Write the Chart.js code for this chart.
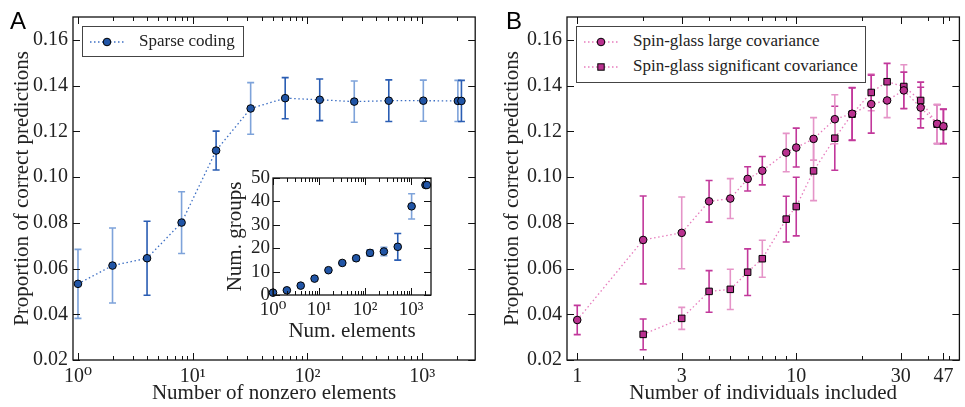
<!DOCTYPE html>
<html>
<head>
<meta charset="utf-8">
<script src="https://cdn.jsdelivr.net/npm/chart.js@4.4.1/dist/chart.umd.min.js"></script>
<style>
    html, body { margin: 0; padding: 0; background: #fff; }
    #wrap { position: relative; width: 965px; height: 407px; overflow: hidden; font-family: "Liberation Serif", "DejaVu Serif", serif; color: #222; }
    #wrap canvas { position: absolute; }
    .panel-tag { position: absolute; font: 24px "Liberation Sans", Arial, sans-serif; color: #000; line-height: 1; }
    .legend { position: absolute; box-sizing: border-box; border: 1.5px solid #444; background: #fff; font-size: 17px; }
    .legend-row { position: absolute; left: 0; height: 20px; white-space: nowrap; }
    .legend-row svg { position: absolute; left: 6px; top: 3px; }
    .legend-row span { position: absolute; left: 56px; top: -1px; line-height: 20px; }
</style>
</head>
<body>
<div id="wrap">
    <canvas id="chartA" width="480" height="407" style="left:0;top:0;width:480px;height:407px"></canvas>
    <canvas id="chartInset" width="220" height="185" style="left:220px;top:160px;width:220px;height:185px"></canvas>
    <canvas id="chartB" width="475" height="407" style="left:490px;top:0;width:475px;height:407px"></canvas>
    <div class="panel-tag" style="left:10px;top:9px">A</div>
    <div class="panel-tag" style="left:506px;top:9px">B</div>

    <div class="legend" style="left:82px;top:26px;width:162px;height:31px">
        <div class="legend-row" style="top:5px">
            <svg width="36" height="14"><line x1="1" y1="7" x2="35" y2="7" stroke="#3d6fc4" stroke-width="1.3" stroke-dasharray="1.5 2.5"/><circle cx="18" cy="7" r="3.8" fill="#2155a6" stroke="#000" stroke-width="1"/></svg>
            <span>Sparse coding</span>
        </div>
    </div>
    <div class="legend" style="left:576px;top:26px;width:290px;height:57px">
        <div class="legend-row" style="top:5px">
            <svg width="36" height="14"><line x1="1" y1="7" x2="35" y2="7" stroke="#e77cbd" stroke-width="1.3" stroke-dasharray="1.5 2.5"/><circle cx="18" cy="7" r="3.8" fill="#b9318f" stroke="#000" stroke-width="1"/></svg>
            <span>Spin-glass large covariance</span>
        </div>
        <div class="legend-row" style="top:30px">
            <svg width="36" height="14"><line x1="1" y1="7" x2="35" y2="7" stroke="#e77cbd" stroke-width="1.3" stroke-dasharray="1.5 2.5"/><rect x="14.8" y="3.8" width="6.4" height="6.4" fill="#b9318f" stroke="#000" stroke-width="1"/></svg>
            <span>Spin-glass significant covariance</span>
        </div>
    </div>
</div>

<script>
// ---- data ----

// Panel A: sparse coding
var A_ELEMENTS = [1, 2, 4, 8, 16, 32, 64, 128, 256, 512, 1024, 2048, 2200];
var A_PROPORTION = [0.0533, 0.0613, 0.0645, 0.0801, 0.1116, 0.1300, 0.1345, 0.1338, 0.1330, 0.1334, 0.1334, 0.1333, 0.1333];
var A_ERROR = [0.0151, 0.0164, 0.0162, 0.0135, 0.0085, 0.0113, 0.0090, 0.0091, 0.0090, 0.0091, 0.0090, 0.0090, 0.0090];

// Panel A inset: number of groups
var INSET_ELEMENTS = [1, 2, 4, 8, 16, 32, 64, 128, 256, 512, 1024, 2048, 2200];
var INSET_GROUPS = [1, 2, 4, 7, 10.6, 13.7, 15.7, 18, 18.6, 20.6, 37.9, 47, 47];
var INSET_ERROR = [0, 0, 0, 0, 0, 0.6, 1, 1.2, 1.8, 5.7, 5.4, 0, 0];

// Panel B: spin-glass, large covariance
var B_LARGE_N = [1, 2, 3, 4, 5, 6, 7, 9, 10, 12, 15, 18, 22, 26, 31, 37, 44, 47];
var B_LARGE_P = [0.0375, 0.0725, 0.0756, 0.0894, 0.0906, 0.0992, 0.1028, 0.1107, 0.1129, 0.1167, 0.1253, 0.1277, 0.1319, 0.1335, 0.1379, 0.1304, 0.1233, 0.1222];
var B_LARGE_ERR = [0.0064, 0.0192, 0.0157, 0.0091, 0.0087, 0.0053, 0.0062, 0.0084, 0.0085, 0.0093, 0.0107, 0.0115, 0.0127, 0.0075, 0.0080, 0.0089, 0.0085, 0.0075];

// Panel B: spin-glass, significant covariance
var B_SIGNIF_N = [2, 3, 4, 5, 6, 7, 9, 10, 12, 15, 18, 22, 26, 31, 37, 44, 47];
var B_SIGNIF_P = [0.0312, 0.0382, 0.0500, 0.0509, 0.0584, 0.0643, 0.0816, 0.0871, 0.1027, 0.1170, 0.1275, 0.1370, 0.1417, 0.1396, 0.1335, 0.1231, 0.1221];
var B_SIGNIF_ERR = [0.0067, 0.0048, 0.0091, 0.0088, 0.0102, 0.0081, 0.0100, 0.0128, 0.0130, 0.0140, 0.0115, 0.0080, 0.0080, 0.0095, 0.0080, 0.0085, 0.0075];

// Axis ticks
var Y_TICKS = [0.02, 0.04, 0.06, 0.08, 0.10, 0.12, 0.14, 0.16];
var INSET_Y_TICKS = [0, 10, 20, 30, 40, 50];
var LOG_MAJOR = [1, 10, 100, 1000];
var LOG_LABELS = ['10\u2070', '10\u00b9', '10\u00b2', '10\u00b3'];
var B_X_MAJOR = [1, 3, 10, 30, 47];
var B_X_MINOR = [2, 4, 5, 6, 7, 8, 9, 20, 40, 50];

// ---- styling ----
var FONT_FAMILY = '"Liberation Serif", "DejaVu Serif", serif';
var TEXT = '#222';
var BLUE = { marker: '#2155a6', line: '#3d6fc4', dark: '#2a5db3', light: '#7ea3da' };
var PINK = { marker: '#b9318f', line: '#e77cbd', dark: '#c2389b', light: '#e594c8' };
// which error bars come out lighter in the reference
var A_LIGHT_BARS = [0, 1, 3, 5, 8, 10, 11];
var INSET_LIGHT_BARS = [5, 6, 8, 10];
var B_LARGE_LIGHT_BARS = [2, 4, 7, 9, 10, 13, 16];
var B_SIGNIF_LIGHT_BARS = [1, 3, 5, 8, 11, 13];

function points(xs, ys) {
    var out = [];
    for (var i = 0; i < xs.length; i++) { out.push({ x: xs[i], y: ys[i] }); }
    return out;
}

function logMinor(max) {
    var out = [];
    for (var d = 1; d <= 1000; d *= 10) {
        for (var k = 2; k <= 9; k++) {
            if (k * d <= max) { out.push(k * d); }
        }
    }
    return out;
}

function tickList(major, minor) {
    var list = [];
    major.forEach(function (v) { list.push({ value: v, major: true }); });
    minor.forEach(function (v) { list.push({ value: v, major: false }); });
    list.sort(function (a, b) { return a.value - b.value; });
    return list;
}

function shade(palette, lightIdx) {
    return function (i) { return lightIdx.indexOf(i) >= 0 ? palette.light : palette.dark; };
}

// inward ticks on all four sides plus the box frame
var frameTicks = {
    id: 'frameTicks',
    afterDatasetsDraw: function (chart) {
        var ctx = chart.ctx;
        var a = chart.chartArea;
        var xs = chart.scales.x;
        var ys = chart.scales.y;
        ctx.save();
        ctx.strokeStyle = '#111';
        ctx.lineWidth = 1;
        ctx.beginPath();
        xs.ticks.forEach(function (t) {
            var px = Math.round(xs.getPixelForValue(t.value)) + 0.5;
            if (px < a.left - 1 || px > a.right + 1) { return; }
            var len = t.major ? 7 : 4;
            ctx.moveTo(px, a.bottom); ctx.lineTo(px, a.bottom - len);
            ctx.moveTo(px, a.top); ctx.lineTo(px, a.top + len);
        });
        ys.ticks.forEach(function (t) {
            var py = Math.round(ys.getPixelForValue(t.value)) + 0.5;
            ctx.moveTo(a.left, py); ctx.lineTo(a.left + 7, py);
            ctx.moveTo(a.right, py); ctx.lineTo(a.right - 7, py);
        });
        ctx.stroke();
        ctx.lineWidth = 1.3;
        ctx.strokeRect(a.left, a.top, a.right - a.left, a.bottom - a.top);
        ctx.restore();
    }
};

// vertical error bars with caps, drawn under the markers
var errorBars = {
    id: 'errorBars',
    beforeDatasetsDraw: function (chart) {
        var ctx = chart.ctx;
        var xs = chart.scales.x;
        var ys = chart.scales.y;
        for (var d = chart.data.datasets.length - 1; d >= 0; d--) {
            var ds = chart.data.datasets[d];
            if (!ds.errors) { continue; }
            ctx.save();
            ctx.lineWidth = 1.6;
            for (var i = 0; i < ds.data.length; i++) {
                var e = ds.errors[i];
                if (!e) { continue; }
                var p = ds.data[i];
                var px = xs.getPixelForValue(p.x);
                var top = ys.getPixelForValue(p.y + e);
                var bot = ys.getPixelForValue(p.y - e);
                ctx.strokeStyle = ds.errorColor(i);
                ctx.beginPath();
                ctx.moveTo(px, top); ctx.lineTo(px, bot);
                ctx.moveTo(px - 3.5, top); ctx.lineTo(px + 3.5, top);
                ctx.moveTo(px - 3.5, bot); ctx.lineTo(px + 3.5, bot);
                ctx.stroke();
            }
            ctx.restore();
        }
    }
};

function fixed(size) {
    return function (scale) {
        if (scale.isHorizontal()) { scale.height = size; } else { scale.width = size; }
    };
}

function seriesDataset(xs, ys, errs, palette, lightIdx, style, radius, showLine) {
    return {
        data: points(xs, ys),
        errors: errs,
        errorColor: shade(palette, lightIdx),
        showLine: showLine,
        borderColor: palette.line,
        borderWidth: 1.3,
        borderDash: [1.5, 2.6],
        pointStyle: style,
        pointRadius: radius,
        pointHoverRadius: radius,
        pointBackgroundColor: palette.marker,
        pointBorderColor: '#000',
        pointBorderWidth: 1,
        tension: 0,
        clip: false
    };
}

function baseOptions(padding) {
    return {
        responsive: false,
        animation: false,
        events: [],
        layout: { padding: padding },
        plugins: { legend: { display: false }, tooltip: { enabled: false } }
    };
}

var titleFont = { family: FONT_FAMILY, size: 21 };
var tickFont = { family: FONT_FAMILY, size: 20 };
var insetTickFont = { family: FONT_FAMILY, size: 19 };

function proportionAxis(width) {
    return {
        type: 'linear',
        min: 0.02,
        max: 0.17,
        afterBuildTicks: function (s) { s.ticks = Y_TICKS.map(function (v) { return { value: v }; }); },
        afterFit: fixed(width),
        grid: { display: false, drawTicks: false },
        border: { display: false },
        ticks: {
            font: tickFont, color: TEXT, padding: 5, autoSkip: false,
            callback: function (v) { return Number(v).toFixed(2); }
        },
        title: { display: true, text: 'Proportion of correct predictions', font: titleFont, color: TEXT, padding: { top: 10, bottom: 0 } }
    };
}

function powerLabel(v) {
    var k = LOG_MAJOR.indexOf(v);
    return k >= 0 ? LOG_LABELS[k] : '';
}

// ---- panel A ----
new Chart(document.getElementById('chartA'), {
    type: 'scatter',
    data: {
        datasets: [seriesDataset(A_ELEMENTS, A_PROPORTION, A_ERROR, BLUE, A_LIGHT_BARS, 'circle', 3.8, true)]
    },
    options: Object.assign(baseOptions({ top: 17, right: 4, left: 0, bottom: 0 }), {
        scales: {
            x: {
                type: 'logarithmic',
                min: 0.905,
                max: 2900,
                afterBuildTicks: function (s) { s.ticks = tickList(LOG_MAJOR, logMinor(2900)); },
                afterFit: fixed(47),
                grid: { display: false, drawTicks: false },
                border: { display: false },
                ticks: { font: tickFont, color: TEXT, padding: 5, autoSkip: false, maxRotation: 0, callback: powerLabel },
                title: { display: true, text: 'Number of nonzero elements', font: titleFont, color: TEXT, padding: { top: 0, bottom: 1 } }
            },
            y: proportionAxis(73)
        }
    }),
    plugins: [errorBars, frameTicks]
});

// ---- panel A inset ----
new Chart(document.getElementById('chartInset'), {
    type: 'scatter',
    data: {
        datasets: [seriesDataset(INSET_ELEMENTS, INSET_GROUPS, INSET_ERROR, BLUE, INSET_LIGHT_BARS, 'circle', 3.8, false)]
    },
    options: Object.assign(baseOptions({ top: 18, right: 9, left: 0, bottom: 0 }), {
        scales: {
            x: {
                type: 'logarithmic',
                min: 1,
                max: 2700,
                afterBuildTicks: function (s) { s.ticks = tickList(LOG_MAJOR, logMinor(2700)); },
                afterFit: fixed(50),
                grid: { display: false, drawTicks: false },
                border: { display: false },
                ticks: { font: insetTickFont, color: TEXT, padding: 4, autoSkip: false, maxRotation: 0, callback: powerLabel },
                title: { display: true, text: 'Num. elements', font: titleFont, color: TEXT, padding: { top: 0, bottom: 1 } }
            },
            y: {
                type: 'linear',
                min: 0,
                max: 50,
                afterBuildTicks: function (s) { s.ticks = INSET_Y_TICKS.map(function (v) { return { value: v }; }); },
                afterFit: fixed(53),
                grid: { display: false, drawTicks: false },
                border: { display: false },
                ticks: { font: insetTickFont, color: TEXT, padding: 3, autoSkip: false },
                title: { display: true, text: 'Num. groups', font: titleFont, color: TEXT, padding: { top: 3, bottom: 0 } }
            }
        }
    }),
    plugins: [errorBars, frameTicks]
});

// ---- panel B ----
new Chart(document.getElementById('chartB'), {
    type: 'scatter',
    data: {
        datasets: [
            seriesDataset(B_LARGE_N, B_LARGE_P, B_LARGE_ERR, PINK, B_LARGE_LIGHT_BARS, 'circle', 3.8, true),
            seriesDataset(B_SIGNIF_N, B_SIGNIF_P, B_SIGNIF_ERR, PINK, B_SIGNIF_LIGHT_BARS, 'rect', 4.6, true)
        ]
    },
    options: Object.assign(baseOptions({ top: 17, right: 1, left: 0, bottom: 0 }), {
        scales: {
            x: {
                type: 'logarithmic',
                min: 0.898,
                max: 55.6,
                afterBuildTicks: function (s) { s.ticks = tickList(B_X_MAJOR, B_X_MINOR); },
                afterFit: fixed(47),
                grid: { display: false, drawTicks: false },
                border: { display: false },
                ticks: {
                    font: tickFont, color: TEXT, padding: 5, autoSkip: false, maxRotation: 0,
                    callback: function (v) { return B_X_MAJOR.indexOf(v) >= 0 ? String(v) : ''; }
                },
                title: { display: true, text: 'Number of individuals included', font: titleFont, color: TEXT, padding: { top: 0, bottom: 1 } }
            },
            y: proportionAxis(77)
        }
    }),
    plugins: [errorBars, frameTicks]
});
</script>
</body>
</html>
